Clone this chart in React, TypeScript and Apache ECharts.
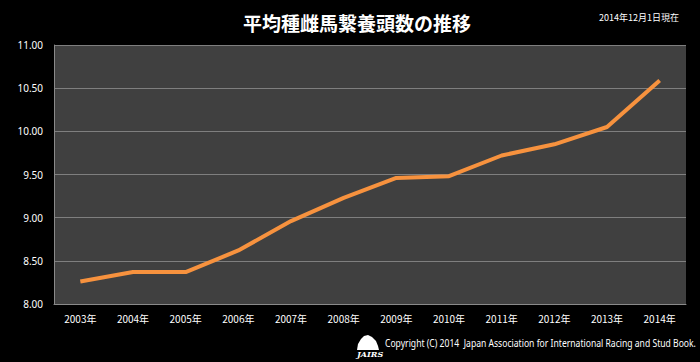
import React, { useEffect, useRef } from "react";
import * as echarts from "echarts";

const categories = ["2003年", "2004年", "2005年", "2006年", "2007年", "2008年", "2009年", "2010年", "2011年", "2012年", "2013年", "2014年"];
const values = [8.26, 8.37, 8.37, 8.62, 8.96, 9.23, 9.46, 9.48, 9.72, 9.85, 10.05, 10.59];
const yTicks = { min: 8, max: 11, interval: 0.5 };
const titleText = "平均種雌馬繋養頭数の推移";
const noteText = "2014年12月1日現在";
const copyrightText = "Copyright (C) 2014  Japan Association for International Racing and Stud Book.";

export default function App() {
  const ref = useRef<HTMLDivElement>(null);
  useEffect(() => {
    document.body.style.margin = "0";
    const chart = echarts.init(ref.current!, undefined, { renderer: "svg" });
    chart.setOption({
      animation: false,
      backgroundColor: "#000000",
      title: {
        text: titleText,
        left: 352,
        textAlign: "center",
        top: 8,
        textStyle: { color: "#ffffff", fontSize: 19, fontWeight: "bold", fontFamily: "Noto Sans CJK JP" },
      },
      grid: {
        left: 54,
        right: 14,
        top: 45,
        bottom: 58,
        show: true,
        backgroundColor: "#404040",
        borderWidth: 0,
      },
      xAxis: {
        type: "category",
        data: categories,
        boundaryGap: true,
        axisLine: { show: true, lineStyle: { color: "#8a8a8a", width: 1 } },
        axisTick: { show: false },
        axisLabel: { color: "#ffffff", fontSize: 10, margin: 9, fontFamily: "Noto Sans CJK JP" },
      },
      yAxis: {
        type: "value",
        min: yTicks.min,
        max: yTicks.max,
        interval: yTicks.interval,
        axisLine: { show: true, lineStyle: { color: "#8a8a8a", width: 1 } },
        axisTick: { show: false },
        splitLine: { show: true, lineStyle: { color: "#7f7f7f", width: 1 } },
        axisLabel: {
          color: "#ffffff",
          fontSize: 10,
          margin: 11,
          fontFamily: "Noto Sans",
          formatter: (v: number) => v.toFixed(2),
        },
      },
      series: [
        {
          type: "line",
          data: values,
          showSymbol: false,
          symbol: "none",
          lineStyle: { color: "#F7923E", width: 4 },
        },
      ],
      graphic: [
        {
          type: "text",
          right: 21,
          top: 13,
          style: { text: noteText, fill: "#ffffff", fontSize: 9, fontFamily: "Noto Sans CJK JP" },
        },
        {
          type: "text",
          x: 385,
          y: 338,
          scaleX: 0.86,
          style: { text: copyrightText, fill: "#ffffff", fontSize: 10, fontFamily: "Noto Sans" },
        },
        {
          type: "polygon",
          shape: {
            points: [[357, 350], [358, 344], [361, 339], [364, 336], [368, 335], [372, 337], [376, 341], [378, 346], [379, 350]],
          },
          style: { fill: "#ffffff" },
        },
        {
          type: "text",
          x: 357,
          y: 350,
          style: { text: "JAIRS", fill: "#ffffff", fontSize: 8, fontWeight: "bold", fontStyle: "italic", fontFamily: "DejaVu Serif" },
        },
      ],
    });
    return () => chart.dispose();
  }, []);
  return <div ref={ref} style={{ position: "absolute", left: 0, top: 0, width: 700, height: 362 }} />;
}
